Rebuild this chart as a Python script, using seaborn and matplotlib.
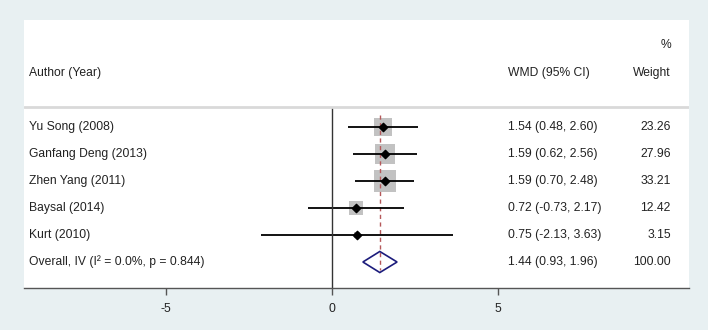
import pandas as pd
import numpy as np
import matplotlib
matplotlib.use("Agg")
import matplotlib.pyplot as plt
import seaborn as sns

studies = ["Yu Song (2008)", "Ganfang Deng (2013)", "Zhen Yang (2011)", "Baysal (2014)", "Kurt (2010)"]
wmd = [1.54, 1.59, 1.59, 0.72, 0.75]
lower = [0.48, 0.62, 0.70, -0.73, -2.13]
upper = [2.60, 2.56, 2.48, 2.17, 3.63]
weight = [23.26, 27.96, 33.21, 12.42, 3.15]
overall_label = "Overall, IV (I\u00b2 = 0.0%, p = 0.844)"
overall = [1.44, 0.93, 1.96]
xticks = [-5, 0, 5]

df = pd.DataFrame({"study": studies, "wmd": wmd, "lo": lower, "hi": upper, "weight": weight})
df["row"] = range(len(df))

sns.set_theme(style="white")
plt.rcParams["font.family"] = ["Liberation Sans", "DejaVu Sans"]

fig = plt.figure(figsize=(7.08, 3.30), dpi=100, facecolor="#e8f0f2")
ax = fig.add_axes([24 / 708, 42 / 330, 665 / 708, 268 / 330])
ax.set_facecolor("white")

ax.set_xlim(-9.277, 10.753)
ax.set_ylim(5.963, -3.963)

# CI lines
ax.hlines(df["row"], df["lo"], df["hi"], color="black", lw=1.3, zorder=2)
# weight squares
sns.scatterplot(data=df, x="wmd", y="row", size="weight",
                sizes={w: 7.6 * w for w in weight}, marker="s",
                color="#c2c2c2", edgecolor="none", legend=False, ax=ax, zorder=1)
ax.scatter(df["wmd"], df["row"], marker="D", s=18, color="black", zorder=3)

# overall diamond
oy = len(df)
est, olo, ohi = overall
ax.fill([olo, est, ohi, est, olo], [oy, oy - 0.39, oy, oy + 0.39, oy],
        facecolor="none", edgecolor="#1c1c7c", lw=1.2, zorder=3)

# reference lines
ax.vlines(0, -0.74, 5.963, color="#333333", lw=1.0)
ax.vlines(est, -0.45, 5.3, color="#b5585a", lw=1.0, ls=(0, (3, 2.5)), zorder=1.5)
ax.axhline(-0.74, color="#d9d9d9", lw=2)

# text
fs = 8.7
tc = "#222222"
tx = -9.13
for r, s in zip(df["row"], df["study"]):
    ax.text(tx, r, s, va="center", ha="left", fontsize=fs, color=tc)
ax.text(tx, oy, overall_label, va="center", ha="left", fontsize=fs, color=tc)
for r, e, l, h, w in zip(df["row"], wmd, lower, upper, weight):
    ax.text(5.30, r, f"{e:.2f} ({l:.2f}, {h:.2f})", va="center", ha="left", fontsize=fs, color=tc)
    ax.text(10.21, r, f"{w:.2f}", va="center", ha="right", fontsize=fs, color=tc)
ax.text(5.30, oy, f"{est:.2f} ({olo:.2f}, {ohi:.2f})", va="center", ha="left", fontsize=fs, color=tc)
ax.text(10.21, oy, "100.00", va="center", ha="right", fontsize=fs, color=tc)

ax.text(tx, -2.0, "Author (Year)", va="center", ha="left", fontsize=fs, color=tc)
ax.text(5.30, -2.0, "WMD (95% CI)", va="center", ha="left", fontsize=fs, color=tc)
ax.text(10.21, -2.0, "Weight", va="center", ha="right", fontsize=fs, color=tc)
ax.text(10.21, -3.04, "%", va="center", ha="right", fontsize=fs, color=tc)

for side in ["top", "right", "left"]:
    ax.spines[side].set_visible(False)
ax.spines["bottom"].set_color("#555555")
ax.spines["bottom"].set_linewidth(1.0)
ax.set_xticks(xticks)
ax.set_xticklabels([str(t) for t in xticks])
ax.tick_params(axis="x", direction="out", length=5, width=1, color="#555555",
               labelsize=fs, labelcolor=tc, pad=6, bottom=True)
ax.set_yticks([])
ax.set_xlabel("")
ax.set_ylabel("")

fig.savefig("out.png", dpi=100, facecolor=fig.get_facecolor())
